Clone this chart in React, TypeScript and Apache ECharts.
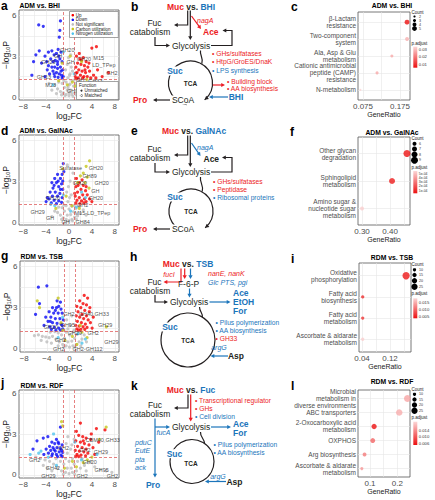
import React, { useEffect, useRef } from 'react';
import * as echarts from 'echarts';

const FONT = '"Liberation Sans", Arial, Helvetica, sans-serif';
const RED = '#ec1c24';
const BLUE = '#1b75bb';
const INK = '#231f20';
const AX = '#4d4d4d';
const UP_C = '#f50000';
const DOWN_C = '#0a0af5';
const NS_C = '#bdbdbd';
const CARB_C = '#c6c61c';
const NITRO_C = '#4fc4ee';
const CB_LOW = [236, 16, 16];
const CB_HIGH = [251, 214, 214];

// ---------- volcano shared ----------
const fcTicks = [-8, -4, 0, 4, 8];
const fcGrid = [-8, -6, -4, -2, 0, 2, 4, 6, 8];
const pTicks = [0, 3, 6];
const pGrid = [0, 1.5, 3, 4.5, 6];
const fcCut = [-1, 1];
const pCut = 1.3;
const volcanoLegend = ['Up', 'Down', 'Not significant', 'Carbon utilization', 'Nitrogen utilization'];
const functionLegend = ['Unmatched', 'Matched'];

// ---------- a: ADM vs. BHI ----------
const aUp = [[1.3,3.0],[1.8,3.2],[2.5,2.9],[4.0,3.6],[4.8,3.7],[3.0,2.6],[1.5,2.5],[2.1,2.4],[2.7,2.3],[3.3,2.2],[1.2,2.2],[1.7,2.0],[2.3,1.9],[2.9,1.8],[3.6,1.9],[1.4,1.8],[2.0,1.6],[2.6,1.5],[3.2,1.5],[1.1,1.5],[1.6,1.4],[4.3,1.6],[5.0,2.0],[5.8,1.5],[6.9,1.8],[4.7,1.4],[2.2,2.7],[1.3,1.35],[3.8,1.4],[2.4,1.4],[1.9,2.8],[3.5,2.5],[1.2,1.75],[2.8,2.0]];
const aDown = [[-5.3,5.3],[-4.5,5.2],[-1.5,5.6],[-1.6,4.9],[-1.7,4.4],[-5.8,3.1],[-6.2,2.6],[-4.2,3.0],[-3.6,3.3],[-3.0,3.4],[-2.6,3.1],[-2.2,3.2],[-1.8,3.0],[-1.4,3.3],[-3.2,2.8],[-2.8,2.6],[-2.4,2.7],[-2.0,2.6],[-1.6,2.8],[-1.2,2.6],[-4.8,2.5],[-3.6,2.3],[-3.0,2.2],[-2.5,2.2],[-2.0,2.1],[-1.5,2.2],[-1.1,2.0],[-2.8,1.9],[-2.2,1.8],[-1.7,1.7],[-1.3,1.6],[-3.4,1.7],[-2.5,1.5],[-1.9,1.45],[-1.2,1.4],[-6.5,1.6],[-4.2,1.5],[-3.8,2.0],[-2.0,2.4],[-1.4,1.9],[-1.0,1.5],[-2.6,1.7],[-5.2,3.4],[-3.9,2.6],[-1.9,3.5]];
const aNs = [[0,0.1],[-0.5,0.2],[0.5,0.2],[-1,0.3],[1,0.3],[-0.3,0.5],[0.3,0.5],[-1.5,0.4],[1.5,0.5],[-0.8,0.7],[0.8,0.8],[-2,0.6],[2,0.7],[0,0.9],[-1.2,1.0],[1.2,1.0],[-0.5,1.1],[0.5,1.2],[-2.5,0.9],[2.5,1.0],[-0.2,1.4],[0.2,1.7],[-0.6,2.0],[0.6,1.9],[-0.3,2.4],[0.4,2.2],[-3,0.5],[3,0.6],[-1.8,1.1],[1.8,1.2],[0,0.3],[-0.2,0.7],[0.2,0.95],[-0.9,1.2],[0.9,1.25],[-3.5,1.0],[3.5,0.9],[-0.7,0.1],[0.7,0.05],[-1.3,0.15],[1.3,0.15],[-2.2,0.25],[2.2,0.3],[0.1,1.6],[-0.1,2.9],[0.3,3.1]];
const aCarbon = [[-1.2,2.5],[2.2,2.6],[0.6,1.1],[-0.3,0.9],[1.1,0.8],[-1.8,1.2],[3.1,1.3],[0.2,3.0]];
const aNitrogen = [[-1.0,3.3],[3.6,1.1],[-2.8,0.9],[0.9,1.7],[1.5,0.6]];
const aLabels = [[-0.3,3.45,'GH20'],[-1.9,3.05,'GH'],[-3.6,2.55,'GH29'],[0.3,2.6,'GH'],[2.6,2.8,'GH20'],[5.2,2.9,'M15'],[6.1,2.35,'LD_TPep'],[7.5,1.75,'GH2'],[4.6,1.2,'GH33'],[-4.4,1.45,'GH13'],[-3.2,0.9,'M23'],[0.9,0.45,'GH95'],[2.0,1.28,'GH']];

// ---------- d: ADM vs. GalNAc ----------
const dUp = [[1.3,3.2],[1.8,2.9],[2.5,2.7],[1.2,2.6],[2.1,2.4],[2.9,2.3],[1.5,2.2],[2.4,2.0],[3.2,2.0],[1.1,1.9],[1.8,1.8],[2.7,1.7],[1.4,1.6],[2.2,1.55],[3.0,1.5],[1.2,1.4],[1.9,1.35],[2.6,1.4],[3.6,1.7],[1.6,2.7],[2.3,3.1],[3.0,2.6],[1.0,2.1],[4.0,1.5]];
const dDown = [[-1.0,4.3],[-0.9,3.7],[-1.2,3.5],[-2.0,3.5],[-2.5,3.2],[-1.5,3.2],[-3.0,2.9],[-2.2,2.9],[-1.3,2.8],[-2.8,2.5],[-1.8,2.6],[-1.1,2.4],[-3.3,2.2],[-2.4,2.2],[-1.6,2.1],[-2.9,1.9],[-2.0,1.9],[-1.2,1.8],[-3.5,1.7],[-2.6,1.6],[-1.8,1.55],[-1.3,1.45],[-4.0,1.5],[-3.1,1.4],[-2.2,1.35],[-1.5,2.4],[-2.6,2.7],[-1.9,3.0],[-1.1,3.0],[-3.8,1.8]];
const dNs = [[0,0.1],[-0.5,0.2],[0.5,0.2],[-1,0.3],[1,0.35],[-0.3,0.5],[0.3,0.55],[-1.5,0.5],[1.5,0.45],[-0.8,0.8],[0.8,0.75],[-2,0.7],[2,0.65],[0,0.95],[-1.2,1.05],[1.2,1.0],[-0.5,1.2],[0.5,1.15],[-2.5,0.8],[2.5,0.9],[-0.2,1.5],[0.1,1.8],[-0.4,2.2],[0.4,2.0],[-0.1,2.6],[0.2,3.0],[-3,0.4],[3,0.5],[-1.8,1.1],[1.8,1.15],[-0.6,0.05],[0.6,0.1],[-1.3,0.2],[1.3,0.2],[-0.9,1.25],[0.9,1.2],[-0.3,4.2],[0.7,3.6]];
const dCarbon = [[3.6,4.5],[3.0,4.1],[2.5,3.6],[3.2,3.3],[2.0,3.4],[1.5,2.9],[2.8,2.9],[-0.5,1.9],[0.5,1.2],[1.8,1.0],[-1.1,3.9],[3.5,2.5],[-2.3,1.0]];
const dNitrogen = [[-1.0,2.0],[1.3,1.1],[-2.5,1.2],[2.2,2.2],[0.3,0.8],[-3.2,1.3],[2.9,1.8]];
const dLabels = [[0.3,3.95,'Sulfatase'],[4.7,3.95,'GH20'],[3.6,3.4,'GH89'],[5.7,2.85,'GH20'],[1.9,2.85,'GH20'],[4.6,2.3,'GH'],[4.7,1.75,'GH20'],[-2.8,1.75,'GH20'],[2.4,1.25,'GH2'],[-5.5,0.75,'GH29'],[4.1,0.68,'M15-LD_TPep'],[-3.3,0.3,'GH'],[-0.6,-0.02,'GH'],[2.4,-0.02,'GH84']];

// ---------- g: RDM vs. TSB ----------
const gUp = [[2.6,3.9],[3.2,3.7],[1.8,3.5],[2.4,3.3],[3.0,3.2],[1.3,3.1],[2.0,3.0],[2.7,2.8],[3.5,2.7],[1.5,2.7],[2.2,2.5],[3.0,2.4],[1.2,2.4],[1.8,2.3],[2.5,2.2],[3.3,2.1],[1.4,2.0],[2.1,1.9],[2.8,1.8],[3.7,1.9],[1.1,1.7],[1.7,1.65],[2.4,1.6],[3.1,1.55],[1.3,1.45],[2.0,1.4],[2.7,1.4],[4.0,1.5],[3.6,3.0],[1.6,1.35],[4.2,2.3]];
const gDown = [[-5.5,4.5],[-4.0,4.6],[-5.3,3.3],[-6.0,2.5],[-2.2,3.5],[-1.6,3.4],[-3.0,3.0],[-2.3,3.0],[-1.5,2.9],[-3.6,2.7],[-2.8,2.6],[-2.0,2.6],[-1.3,2.6],[-4.2,2.3],[-3.3,2.3],[-2.5,2.2],[-1.7,2.2],[-1.1,2.1],[-3.8,2.0],[-3.0,1.9],[-2.2,1.85],[-1.5,1.8],[-4.5,1.7],[-3.5,1.6],[-2.7,1.55],[-1.9,1.5],[-1.2,1.45],[-3.2,1.4],[-2.4,1.35],[-1.6,1.35],[-2.5,2.8],[-1.9,3.1],[-3.4,2.0],[-1.3,1.7]];
const gNs = [[0,0.1],[-0.6,0.2],[0.6,0.2],[-1.2,0.3],[1.2,0.3],[-0.3,0.5],[0.4,0.55],[-1.8,0.5],[1.7,0.5],[-0.9,0.75],[0.9,0.75],[-2.4,0.7],[2.2,0.7],[0,1.0],[-1.4,1.0],[1.3,1.05],[-0.6,1.2],[0.6,1.2],[-3.0,0.9],[2.6,1.0],[-3.6,0.8],[-4.2,0.85],[-4.8,0.9],[-5.5,1.0],[-6.2,0.95],[-3.4,1.2],[-2.6,1.25],[-2.0,1.15],[-0.3,1.45],[0.2,1.7],[-0.5,2.1],[0.4,2.4],[-3.2,0.4],[3.0,0.5],[-1.0,0.1],[1.0,0.1],[-2.0,0.2],[2.0,0.2],[-4.0,0.5],[-5.0,0.6],[0.8,1.35],[-1.0,1.35]];
const gCarbon = [[-5.7,3.5],[-5.3,3.0],[-2.0,3.7],[6.5,1.6],[-1.5,1.9],[-1.2,1.35],[1.9,1.7],[0.5,0.9],[-0.8,0.6],[3.1,0.8],[1.3,0.3],[2.2,1.2]];
const gNitrogen = [[-1.2,2.3],[2.8,0.7],[1.5,1.1],[-2.0,0.8],[2.2,0.4]];
const gLabels = [[-0.1,2.5,'GH2'],[4.3,2.55,'GH40,GH33'],[-0.3,1.75,'GH95'],[6.3,1.75,'GH29'],[-3.3,1.55,'GH20'],[0.9,1.15,'GH29'],[4.2,1.15,'GH2'],[-1.6,0.65,'GH2'],[7.4,0.45,'GH29'],[-1.9,-0.02,'GH2'],[3.2,-0.02,'GH2-GH112']];

// ---------- j: RDM vs. RDF ----------
const jUp = [[2.0,3.8],[1.3,3.2],[4.8,3.4],[6.3,3.3],[1.7,2.9],[2.4,2.8],[3.0,2.7],[3.8,2.6],[1.2,2.5],[2.0,2.4],[2.7,2.3],[3.5,2.2],[1.5,2.1],[2.3,2.0],[3.0,1.9],[4.2,2.0],[1.1,1.8],[1.8,1.75],[2.6,1.7],[3.3,1.6],[1.4,1.5],[2.1,1.45],[2.9,1.4],[1.2,1.35],[1.7,1.35],[4.5,1.5],[5.2,2.4],[3.9,3.0],[2.5,2.5]];
const jDown = [[-5.6,2.5],[-6.3,1.9],[-4.5,2.7],[-3.7,2.8],[-1.5,3.5],[-2.2,2.6],[-3.0,2.4],[-2.5,2.3],[-1.8,2.3],[-1.2,2.2],[-3.4,2.1],[-2.8,2.0],[-2.1,2.0],[-1.5,1.95],[-4.0,1.9],[-3.2,1.8],[-2.4,1.75],[-1.7,1.7],[-1.1,1.65],[-3.6,1.6],[-2.9,1.55],[-2.2,1.5],[-1.4,1.45],[-3.0,1.4],[-2.0,1.35],[-1.2,1.35],[-4.4,1.5],[-1.9,2.4],[-2.6,1.85],[-1.3,1.8]];
const jNs = [[0,0.1],[-0.6,0.2],[0.6,0.2],[-1.3,0.3],[1.3,0.3],[-0.3,0.5],[0.4,0.5],[-2.0,0.5],[2.0,0.5],[-0.9,0.8],[0.9,0.8],[-2.7,0.8],[2.7,0.7],[0,1.0],[-1.5,1.0],[1.5,1.0],[-0.6,1.2],[0.6,1.2],[-3.4,1.0],[3.4,0.9],[-4.2,1.1],[-5.0,1.2],[-5.8,1.3],[-4.5,0.7],[4.5,0.6],[5.5,0.4],[6.5,0.3],[7.5,0.2],[-3.0,0.3],[3.0,0.3],[-0.3,1.6],[0.3,1.9],[-0.5,2.3],[0.5,2.2],[-1.0,0.05],[1.0,0.05],[-2.3,1.2],[2.3,1.2],[-0.2,2.8],[0.9,2.6],[3.8,1.0],[-3.8,0.5]];
const jCarbon = [[6.5,3.5],[5.3,2.6],[-1.3,3.9],[-1.1,3.6],[2.5,0.9],[4.0,1.3],[-0.8,0.5],[1.3,0.6],[0.6,1.0],[3.2,1.1]];
const jNitrogen = [[-6.8,1.5],[-5.3,1.6],[-4.9,1.75],[-2.7,3.0],[-3.6,1.3],[4.9,1.5],[1.0,2.4],[2.2,1.1],[-2.2,0.7]];
const jLabels = [[-1.0,2.0,'GH2'],[5.9,2.55,'CBM40,GH33'],[2.8,1.85,'GH2'],[5.6,1.7,'GH29'],[-6.0,1.1,'GH2'],[3.6,0.95,'GH20'],[-2.8,0.5,'GH42'],[5.7,0.4,'GH95'],[-3.6,-0.05,'GH29'],[2.3,-0.05,'GH2'],[7.6,-0.05,'GH2']];

// ---------- dot plots ----------
const cTerms = ['β-Lactam\nresistance', 'Two-component\nsystem', 'Ala, Asp & Glu\nmetabolism', 'Cationic antimicrobial\npeptide (CAMP)\nresistance', 'N-metabolism'];
const cRatio = [0.194, 0.194, 0.153, 0.113, 0.068];
const cCount = [5, 4, 3, 3, 2];
const cPadj = [0.005, 0.028, 0.027, 0.027, 0.033];
const cRatioTicks = [0.075, 0.175];
const cRatioGrid = [0.075, 0.125, 0.175];
const cCountTicks = [2, 3, 4, 5];
const cPadjTicks = [0.03, 0.02, 0.01];

const fTerms = ['Other glycan\ndegradation', 'Sphingolipid\nmetabolism', 'Amino sugar &\nnucleotide sugar\nmetabolism'];
const fRatio = [0.46, 0.407, 0.30];
const fCount = [9, 8, 6];
const fPadj = [0.00005, 0.00007, 0.00054];
const fRatioTicks = [0.30, 0.40];
const fRatioGrid = [0.30, 0.35, 0.40, 0.45];
const fCountTicks = [6, 7, 8, 9];
const fPadjTicks = [0.0005, 0.0004, 0.0003, 0.0002, 0.0001];

const iTerms = ['Oxidative\nphosphorylation', 'Fatty acid\nbiosynthesis', 'Fatty acid\nmetabolism', 'Ascorbate & aldarate\nmetabolism'];
const iRatio = [0.166, 0.042, 0.042, 0.042];
const iCount = [30, 10, 10, 10];
const iPadj = [0.0045, 0.006, 0.0065, 0.0175];
const iRatioTicks = [0.04, 0.12];
const iRatioGrid = [0.04, 0.08, 0.12, 0.16];
const iCountTicks = [10, 15, 20, 25];
const iPadjTicks = [0.015, 0.010, 0.005];

const lTerms = ['Microbial\nmetabolism in\ndiverse environments', 'ABC transporters', '2-Oxocarboxylic acid\nmetabolism', 'OXPHOS', 'Arg biosynthesis', 'Ascorbate & aldarate\nmetabolism'];
const lRatio = [0.237, 0.207, 0.115, 0.11, 0.08, 0.07];
const lCount = [28, 26, 20, 18, 13, 9];
const lPadj = [0.0155, 0.016, 0.005, 0.011, 0.0125, 0.0145];
const lRatioTicks = [0.1, 0.2];
const lRatioGrid = [0.1, 0.15, 0.2];
const lCountTicks = [10, 15, 20, 25];
const lPadjTicks = [0.014, 0.010, 0.006];

// ---------- panel configs (layout) ----------
const volcanoPanels = [
  { title: 'ADM vs. BHI', up: aUp, down: aDown, ns: aNs, carbon: aCarbon, nitro: aNitrogen, labels: aLabels, grid: { left: 19, top: 10, width: 100, height: 90 }, y: [-0.22, 6.4], titlePos: [19.5, 5] },
  { title: 'ADM vs. GalNAc', up: dUp, down: dDown, ns: dNs, carbon: dCarbon, nitro: dNitrogen, labels: dLabels, grid: { left: 19, top: 135, width: 100, height: 90 }, y: [-0.22, 6.4], titlePos: [19.5, 130.5] },
  { title: 'RDM vs. TSB', up: gUp, down: gDown, ns: gNs, carbon: gCarbon, nitro: gNitrogen, labels: gLabels, grid: { left: 20, top: 261, width: 99, height: 91 }, y: [-0.25, 6.42], titlePos: [20.5, 256] },
  { title: 'RDM vs. RDF', up: jUp, down: jDown, ns: jNs, carbon: jCarbon, nitro: jNitrogen, labels: jLabels, grid: { left: 19, top: 390, width: 100, height: 88 }, y: [-0.22, 6.22], titlePos: [20.5, 385] },
];

const dotPanels = [
  { title: 'ADM vs. BHI', terms: cTerms, ratio: cRatio, count: cCount, padj: cPadj, ticks: cRatioTicks, gridV: cRatioGrid, x: [0.0615, 0.202], dec: 3, countTicks: cCountTicks, size: [2.2, 4.8], padjTicks: cPadjTicks, pRange: [0.005, 0.0335], pDec: 2,
    grid: { left: 358, top: 12, width: 52, height: 88 }, titleY: 5.5, leg: { countTitle: 12.5, countY: [16.5, 20.5, 24.5, 28.5], pTitle: 43, barY: 46.7, barH: 21 } },
  { title: 'ADM vs. GalNAc', terms: fTerms, ratio: fRatio, count: fCount, padj: fPadj, ticks: fRatioTicks, gridV: fRatioGrid, x: [0.2857, 0.471], dec: 2, countTicks: fCountTicks, size: [4, 7], padjTicks: fPadjTicks, pRange: [0.00004, 0.00056], pDec: -1,
    grid: { left: 358, top: 137, width: 52, height: 88 }, titleY: 132.3, leg: { countTitle: 138.5, countY: [143.8, 149, 154.5, 160.3], pTitle: 167.5, barY: 171, barH: 22.3 } },
  { title: 'RDM vs. TSB', terms: iTerms, ratio: iRatio, count: iCount, padj: iPadj, ticks: iRatioTicks, gridV: iRatioGrid, x: [0.0314, 0.18], dec: 2, countTicks: iCountTicks, size: [3.3, 6.3], padjTicks: iPadjTicks, pRange: [0.0039, 0.0181], pDec: 3,
    grid: { left: 359, top: 263, width: 52, height: 89 }, titleY: 257.3, leg: { countTitle: 264.5, countY: [269.8, 275, 280.7, 286.7], pTitle: 293.3, barY: 298.3, barH: 20 } },
  { title: 'RDM vs. RDF', terms: lTerms, ratio: lRatio, count: lCount, padj: lPadj, ticks: lRatioTicks, gridV: lRatioGrid, x: [0.056, 0.2465], dec: 1, countTicks: lCountTicks, size: [3.3, 6.3], padjTicks: lPadjTicks, pRange: [0.005, 0.019], pDec: 3,
    grid: { left: 358, top: 390, width: 52, height: 87 }, titleY: 381.7, leg: { countTitle: 389.5, countY: [394.3, 399.5, 405, 410.7], pTitle: 417.7, barY: 421.7, barH: 23.3 } },
];

// ---------- helpers ----------
const rgb = (c: number[]) => `rgb(${c.map((v) => Math.round(v)).join(',')})`;
const colorOf = (d: any, p: number) => {
  let t = (p - d.pRange[0]) / (d.pRange[1] - d.pRange[0]);
  t = Math.max(0, Math.min(1, t));
  return rgb(CB_LOW.map((v, k) => v + (CB_HIGH[k] - v) * t));
};
const sizeOf = (d: any, c: number) => {
  const lo = d.countTicks[0], hi = d.countTicks[d.countTicks.length - 1];
  return d.size[0] + ((c - lo) / (hi - lo)) * (d.size[1] - d.size[0]);
};
const fmtP = (d: any, p: number) => (d.pDec < 0 ? p.toExponential(0).replace(/e-(\d)$/, 'e-0$1') : p.toFixed(d.pDec));
const minus = (v: number) => (v < 0 ? '\u2212' + Math.abs(v) : String(v));

const T = (x: number, y: number, text: string, o: any = {}) => {
  const al = o.align || 'center';
  const style: any = {
    text, fill: o.fill || INK, fontSize: o.size || 8.5, fontWeight: o.bold ? 'bold' : 'normal',
    fontStyle: o.italic ? 'italic' : 'normal', fontFamily: FONT,
    align: al, textAlign: al, verticalAlign: 'middle', textVerticalAlign: 'middle',
  };
  if (o.rich) style.rich = o.rich;
  if (o.bg) { style.backgroundColor = '#fff'; style.padding = [0, 1]; }
  return { type: 'text', x, y, z: 50, silent: true, style };
};

const arrow = (pts: number[][], color: string, head = true, w = 1.2) => {
  const p = pts.map((q) => q.slice());
  const out: any[] = [];
  if (head) {
    const n = p.length;
    const [x2, y2] = p[n - 1];
    const [x1, y1] = p[n - 2];
    const L = Math.hypot(x2 - x1, y2 - y1);
    const ux = (x2 - x1) / L, uy = (y2 - y1) / L;
    const len = 3.8, hw = 2.1;
    const bx = x2 - ux * len, by = y2 - uy * len;
    p[n - 1] = [bx + ux * 0.6, by + uy * 0.6];
    out.push({ type: 'polygon', z: 51, silent: true, shape: { points: [[x2, y2], [bx - uy * hw, by + ux * hw], [bx + uy * hw, by - ux * hw]] }, style: { fill: color } });
  }
  out.unshift({ type: 'polyline', z: 50, silent: true, shape: { points: p }, style: { stroke: color, lineWidth: w, fill: 'none' } });
  return out;
};

const arcEl = (cx: number, cy: number, r: number, a0: number, a1: number, color = INK, w = 1.2) => ({
  type: 'arc', z: 50, silent: true,
  shape: { cx, cy, r, startAngle: (a0 * Math.PI) / 180, endAngle: (a1 * Math.PI) / 180, clockwise: true },
  style: { stroke: color, lineWidth: w, fill: 'none' },
});
const arcHead = (cx: number, cy: number, r: number, a: number, color = INK) => {
  const t = (a * Math.PI) / 180;
  const x2 = cx + r * Math.cos(t), y2 = cy + r * Math.sin(t);
  const ux = -Math.sin(t), uy = Math.cos(t);
  const len = 3.8, hw = 2.1;
  const bx = x2 - ux * len, by = y2 - uy * len;
  return { type: 'polygon', z: 51, silent: true, shape: { points: [[x2, y2], [bx - uy * hw, by + ux * hw], [bx + uy * hw, by - ux * hw]] }, style: { fill: color } };
};
const curve = (x1: number, y1: number, c1x: number, c1y: number, c2x: number, c2y: number, x2: number, y2: number) => ({
  type: 'bezierCurve', z: 50, silent: true,
  shape: { x1, y1, cpx1: c1x, cpy1: c1y, cpx2: c2x, cpy2: c2y, x2, y2 },
  style: { stroke: INK, lineWidth: 1.2, fill: 'none' },
});

const richTitle = {
  r: { fill: RED, fontSize: 8.5, fontWeight: 'bold', fontFamily: FONT },
  u: { fill: BLUE, fontSize: 8.5, fontWeight: 'bold', fontFamily: FONT },
};
const PT = 8.5; // pathway text size
const LS = 6.7; // list text size

function pathwayGraphics() {
  const g: any[] = [];
  const add = (...els: any[]) => els.forEach((e) => (Array.isArray(e) ? g.push(...e) : g.push(e)));

  // ----- b -----
  add(T(191, 6.5, '{r|Muc} vs. {u|BHI}', { bold: true, rich: richTitle }));
  add(arrow([[187.7, 10.5], [187.7, 25], [174, 25]], INK));
  add(arrow([[190.3, 10.5], [190.3, 40]], INK));
  add(arrow([[191.5, 16], [201, 29]], RED));
  add(T(197, 20, 'nagA', { italic: true, fill: RED, size: 7, align: 'left' }));
  add(T(203, 31.5, 'Ace', { bold: true, fill: RED, align: 'left' }));
  add(T(154.5, 23, 'Fuc', { size: PT }), T(150, 32, 'catabolism', { size: PT }));
  add(arrow([[155, 37], [155, 45.5], [170, 45.5]], INK));
  add(T(191, 45.5, 'Glycolysis', { size: PT }));
  add(arrow([[211, 45.5], [232, 45.5], [232, 30.5], [222.5, 30.5]], INK));
  add(curve(200.5, 50.5, 199.5, 56, 204, 58, 201.8, 63.8));
  add(arcEl(190.5, 83, 22, 100, 295), arcEl(190.5, 83, 22, -65, 50), arcHead(190.5, 83, 22, 50));
  add(T(190.5, 83, 'TCA', { bold: true, size: 6.5 }));
  add(T(175, 71, 'Suc', { bold: true, fill: BLUE, bg: true }));
  add(T(183, 100, 'SCoA', { size: PT, bg: true }));
  add(arrow([[170, 100], [153, 100]], INK));
  add(T(140, 100, 'Pro', { bold: true, fill: RED }));
  add(arrow([[228, 97], [209, 97]], BLUE));
  add(T(236, 97, 'BHI', { bold: true, fill: BLUE }));
  add(arrow([[212.8, 85], [225, 85]], RED));
  add(T(227, 81, '• Building block', { fill: RED, size: LS, align: 'left' }));
  add(T(227, 88.5, '• AA biosynthesis', { fill: RED, size: LS, align: 'left' }));
  add(T(212, 53, '• GHs/sulfatases', { fill: RED, size: LS, align: 'left' }));
  add(T(212, 61.5, '• HtpG/GroES/DnaK', { fill: RED, size: LS, align: 'left' }));
  add(T(212, 70, '• LPS synthesis', { fill: BLUE, size: LS, align: 'left' }));

  // ----- e -----
  add(T(194, 131, '{r|Muc} vs. {u|GalNAc}', { bold: true, rich: richTitle }));
  add(arrow([[187.7, 135.5], [187.7, 155], [174, 155]], INK));
  add(arrow([[190.3, 135.5], [190.3, 167]], INK));
  add(arrow([[191.5, 143], [200.5, 156]], BLUE));
  add(T(197, 147, 'nagA', { italic: true, fill: BLUE, size: 7, align: 'left' }));
  add(T(203.5, 158.5, 'Ace', { bold: true, align: 'left' }));
  add(T(154.5, 149, 'Fuc', { size: PT }), T(150, 158, 'catabolism', { size: PT }));
  add(arrow([[155, 163], [155, 172], [170, 172]], INK));
  add(T(191, 172, 'Glycolysis', { size: PT }));
  add(arrow([[211, 172], [232, 172], [232, 157.5], [222, 157.5]], INK));
  add(curve(200.5, 177, 199.5, 183, 204, 185, 202.2, 191.5));
  add(arcEl(191, 211, 22, 100, 295), arcEl(191, 211, 22, -65, 50), arcHead(191, 211, 22, 50));
  add(T(191, 211, 'TCA', { bold: true, size: 6.5 }));
  add(T(175, 197, 'Suc', { bold: true, fill: BLUE, bg: true }));
  add(T(183, 229, 'SCoA', { size: PT, bg: true }));
  add(arrow([[170, 229], [153, 229]], INK));
  add(T(140, 229, 'Pro', { bold: true, fill: RED }));
  add(T(213, 181, '• GHs/sulfatases', { fill: RED, size: LS, align: 'left' }));
  add(T(213, 189, '• Peptidase', { fill: RED, size: LS, align: 'left' }));
  add(T(213, 197, '• Ribosomal proteins', { fill: BLUE, size: LS, align: 'left' }));

  // ----- h -----
  add(T(188, 264, '{r|Muc} vs. {u|TSB}', { bold: true, rich: richTitle }));
  add(arrow([[181, 268.5], [181, 282], [163.5, 282]], RED));
  add(T(169, 274, 'fucI', { italic: true, fill: RED, size: 7 }));
  add(arrow([[184.7, 268.5], [184.7, 279]], RED));
  add(arrow([[190.5, 268.5], [190.5, 279]], BLUE));
  add(T(188.5, 284, 'F-6-P', { size: PT }));
  add(T(208, 273, 'nanE, nanK', { italic: true, fill: RED, size: 7, align: 'left' }));
  add(T(208, 282, 'Glc PTS, pgi', { italic: true, fill: BLUE, size: 7, align: 'left' }));
  add(arrow([[189.5, 288.5], [189.5, 297.5]], BLUE));
  add(T(154.5, 281.5, 'Fuc', { size: PT }), T(150, 290.5, 'catabolism', { size: PT }));
  add(arrow([[155, 295], [155, 302], [168, 302]], INK));
  add(T(189, 302, 'Glycolysis', { size: PT }));
  add(arrow([[209.5, 302], [230.5, 302]], BLUE));
  add(T(233, 293, 'Ace', { bold: true, fill: BLUE, align: 'left' }));
  add(T(233, 302, 'EtOH', { bold: true, fill: BLUE, align: 'left' }));
  add(T(233, 311, 'For', { bold: true, fill: BLUE, align: 'left' }));
  add(curve(199.5, 307, 199.5, 312, 203, 313, 202.3, 317.1));
  add(arcEl(188, 340, 27, 0, 360));
  add(T(188, 340, 'TCA', { bold: true, size: 6.5 }));
  add(T(170, 327, 'Suc', { bold: true, fill: BLUE, bg: true }));
  add(T(215.5, 322, '• Pilus polymerization', { fill: BLUE, size: LS, align: 'left' }));
  add(T(215.5, 330, '• AA biosynthesis', { fill: BLUE, size: LS, align: 'left' }));
  add(T(215.5, 338, '• GH33', { fill: RED, size: LS, align: 'left' }));
  add(T(219, 347, 'argG', { italic: true, fill: BLUE, size: 7 }));
  add(arrow([[228, 356], [210.5, 356]], BLUE));
  add(T(236, 356, 'Asp', { bold: true }));

  // ----- k -----
  add(T(191, 390, '{r|Muc} vs. {u|Fuc}', { bold: true, rich: richTitle }));
  add(arrow([[188, 394.5], [188, 408], [174, 408]], INK));
  add(arrow([[190.7, 394.5], [190.7, 421.5]], RED));
  add(T(195, 400, '• Transcriptional regulator', { fill: RED, size: LS, align: 'left' }));
  add(T(195, 408.3, '• GHs', { fill: RED, size: LS, align: 'left' }));
  add(T(195, 416.6, '• Cell division', { fill: BLUE, size: LS, align: 'left' }));
  add(T(155, 404.8, 'Fuc', { size: PT }), T(150, 413.8, 'catabolism', { size: PT }));
  add(arrow([[155, 418.5], [155, 477.5]], BLUE));
  add(arrow([[155, 427], [170, 427]], BLUE));
  add(T(163.5, 432.8, 'fucA', { italic: true, fill: BLUE, size: 7 }));
  add(T(135, 442, 'pduC', { italic: true, fill: BLUE, size: 7, align: 'left' }));
  add(T(135, 450.5, 'EutE', { italic: true, fill: BLUE, size: 7, align: 'left' }));
  add(T(135, 459, 'pta', { italic: true, fill: BLUE, size: 7, align: 'left' }));
  add(T(135, 467.5, 'ack', { italic: true, fill: BLUE, size: 7, align: 'left' }));
  add(T(153, 485, 'Pro', { bold: true, fill: BLUE }));
  add(T(191, 427, 'Glycolysis', { size: PT }));
  add(arrow([[211, 427], [231, 427]], BLUE));
  add(T(233, 423.5, 'Ace', { bold: true, fill: BLUE, align: 'left' }));
  add(T(233, 432.5, 'For', { bold: true, fill: BLUE, align: 'left' }));
  add(curve(200.5, 432, 200, 437, 204.5, 439, 204.6, 443.5));
  add(arcEl(192, 461.5, 22, 0, 360));
  add(T(191, 463, 'TCA', { bold: true, size: 6.5 }));
  add(T(174.5, 453.7, 'Suc', { bold: true, fill: BLUE, bg: true }));
  add(T(213.5, 444.5, '• Pilus polymerization', { fill: BLUE, size: LS, align: 'left' }));
  add(T(213.5, 452.5, '• AA biosynthesis', { fill: BLUE, size: LS, align: 'left' }));
  add(T(218, 476, 'argG', { italic: true, fill: BLUE, size: 7 }));
  add(arrow([[226, 481.5], [205, 481.5]], BLUE));
  add(T(234.5, 482, 'Asp', { bold: true }));
  return g;
}

function chartGraphics() {
  const g: any[] = [];
  const letters: [string, number, number][] = [
    ['a', 1, 6], ['b', 131, 7], ['c', 291, 7], ['d', 1, 131], ['e', 131, 131], ['f', 290, 132],
    ['g', 1, 256], ['h', 130, 257], ['i', 291, 259], ['j', 1, 383], ['k', 131, 386], ['l', 291, 386],
  ];
  letters.forEach(([s, x, y]) => g.push(T(x, y, s, { bold: true, size: 12, align: 'left', fill: '#000' })));

  volcanoPanels.forEach((v) => g.push(T(v.titlePos[0], v.titlePos[1], v.title, { bold: true, size: 6.8, align: 'left', fill: '#000' })));
  dotPanels.forEach((d) => g.push(T(392, d.titleY, d.title, { bold: true, size: 6.8, fill: '#000' })));

  // volcano legend (panel a)
  g.push({ type: 'rect', z: 40, silent: true, shape: { x: 69.5, y: 11.5, width: 48.8, height: 26 }, style: { fill: '#fff', stroke: '#666', lineWidth: 0.6 } });
  const legCols = [UP_C, DOWN_C, NS_C, CARB_C, NITRO_C];
  volcanoLegend.forEach((s, k) => {
    const y = 15.2 + k * 4.6;
    g.push({ type: 'circle', z: 41, silent: true, shape: { cx: 72.8, cy: y, r: 1.3 }, style: { fill: legCols[k] } });
    g.push(T(75.8, y, s, { size: 4.5, align: 'left', fill: '#1a1a1a' }));
  });
  g.push({ type: 'rect', z: 40, silent: true, shape: { x: 76.5, y: 81.5, width: 41.8, height: 18 }, style: { fill: '#fff', stroke: '#666', lineWidth: 0.6 } });
  g.push(T(79, 85.3, 'Function', { size: 4.5, align: 'left', fill: '#1a1a1a' }));
  functionLegend.forEach((s, k) => {
    const y = 90.6 + k * 5;
    g.push({ type: 'circle', z: 41, silent: true, shape: { cx: 81.5, cy: y, r: 1 }, style: k === 0 ? { fill: '#333' } : { fill: '#fff', stroke: '#333', lineWidth: 0.5 } });
    g.push(T(84.5, y, s, { size: 4.5, align: 'left', fill: '#1a1a1a' }));
  });

  // dot plot legends
  dotPanels.forEach((d) => {
    const L = d.leg;
    g.push(T(411.5, L.countTitle, 'Count', { size: 4.5, align: 'left', fill: '#1a1a1a' }));
    d.countTicks.forEach((c: number, k: number) => {
      g.push({ type: 'circle', z: 41, silent: true, shape: { cx: 414.5, cy: L.countY[k], r: sizeOf(d, c) / 2 }, style: { fill: '#000' } });
      g.push(T(419, L.countY[k], String(c), { size: 3.6, align: 'left', fill: '#333' }));
    });
    g.push(T(411.5, L.pTitle, 'p.adjust', { size: 4.5, align: 'left', fill: '#1a1a1a' }));
    g.push({ type: 'rect', z: 41, silent: true, shape: { x: 413.3, y: L.barY, width: 4, height: L.barH },
      style: { fill: new echarts.graphic.LinearGradient(0, 0, 0, 1, [{ offset: 0, color: rgb(CB_HIGH) }, { offset: 1, color: rgb(CB_LOW) }]) } });
    d.padjTicks.forEach((p: number) => {
      const y = L.barY + L.barH - ((p - d.pRange[0]) / (d.pRange[1] - d.pRange[0])) * L.barH;
      g.push(T(418.8, y, fmtP(d, p), { size: d.pDec < 0 ? 3.4 : 4.2, align: 'left', fill: '#333' }));
    });
  });
  return g;
}

function buildOption() {
  const grids: any[] = [];
  const xAxes: any[] = [];
  const yAxes: any[] = [];
  const series: any[] = [];
  const nameRich = {
    a: { fontSize: 8.5, lineHeight: 11, color: '#1a1a1a', fontFamily: FONT },
    s: { fontSize: 5.5, lineHeight: 6, verticalAlign: 'bottom', color: '#1a1a1a', fontFamily: FONT },
  };
  const gridStyle = { show: true, borderColor: '#555', borderWidth: 0.8, backgroundColor: '#fff', containLabel: false, outerBoundsMode: 'none' };

  volcanoPanels.forEach((v, i) => {
    grids.push({ ...gridStyle, ...v.grid });
    xAxes.push({
      gridIndex: i, type: 'value', min: -8.75, max: 8.75,
      axisLine: { show: false }, axisTick: { show: false, customValues: fcGrid },
      splitLine: { show: true, lineStyle: { color: '#e6e6e6', width: 0.6 } },
      axisLabel: { customValues: fcTicks, formatter: (x: number) => minus(x), fontSize: 8, color: AX, margin: 2.5, fontFamily: FONT },
      name: '{a|log}{s|2}{a|FC}', nameLocation: 'middle', nameGap: 10, nameMoveOverlap: false,
      nameTextStyle: { rich: nameRich },
    });
    yAxes.push({
      gridIndex: i, type: 'value', min: v.y[0], max: v.y[1],
      axisLine: { show: false }, axisTick: { show: false, customValues: pGrid },
      splitLine: { show: true, lineStyle: { color: '#e6e6e6', width: 0.6 } },
      axisLabel: { customValues: pTicks, fontSize: 8, color: AX, margin: 2.5, fontFamily: FONT },
      name: '{a|\u2212log}{s|10}{a|P}', nameLocation: 'middle', nameGap: 8, nameRotate: 90, nameMoveOverlap: false,
      nameTextStyle: { rich: nameRich },
    });
    const base = { type: 'scatter', xAxisIndex: i, yAxisIndex: i, silent: true, symbolSize: 3.2, animation: false };
    series.push({ ...base, data: v.ns, itemStyle: { color: NS_C }, z: 2 });
    series.push({ ...base, data: v.down, itemStyle: { color: DOWN_C }, z: 3 });
    series.push({ ...base, data: v.up, itemStyle: { color: UP_C }, z: 3 });
    series.push({ ...base, data: v.carbon, itemStyle: { color: CARB_C }, z: 4 });
    series.push({
      ...base, data: v.nitro, itemStyle: { color: NITRO_C }, z: 4,
      markLine: {
        silent: true, symbol: ['none', 'none'], label: { show: false }, animation: false,
        lineStyle: { color: '#e06060', type: [3, 2], width: 0.8 },
        data: [...fcCut.map((c) => ({ xAxis: c })), { yAxis: pCut }],
      },
    });
    series.push({
      ...base, symbolSize: 0.1, itemStyle: { color: 'rgba(0,0,0,0)' }, z: 6,
      data: v.labels.map((q: any[]) => ({ value: [q[0], q[1]], name: q[2] })),
      label: { show: true, position: 'inside', formatter: '{b}', fontSize: 5.5, color: '#262626', fontFamily: FONT },
      labelLayout: { hideOverlap: false },
    });
  });

  dotPanels.forEach((d, j) => {
    const i = 4 + j;
    const N = d.terms.length;
    const idx = d.terms.map((_: string, k: number) => k + 1);
    grids.push({ ...gridStyle, ...d.grid });
    xAxes.push({
      gridIndex: i, type: 'value', min: d.x[0], max: d.x[1],
      axisLine: { show: false }, axisTick: { show: false, customValues: d.gridV },
      splitLine: { show: true, lineStyle: { color: '#e6e6e6', width: 0.6 } },
      axisLabel: { customValues: d.ticks, formatter: (x: number) => x.toFixed(d.dec), fontSize: 8, color: AX, margin: 2.5, fontFamily: FONT },
      name: 'GeneRatio', nameLocation: 'middle', nameGap: 11, nameMoveOverlap: false,
      nameTextStyle: { fontSize: 7, color: '#1a1a1a', fontFamily: FONT },
    });
    yAxes.push({
      gridIndex: i, type: 'value', inverse: true, min: 0.4, max: N + 0.6,
      axisLine: { show: false }, axisTick: { show: false, customValues: idx },
      splitLine: { show: true, lineStyle: { color: '#e6e6e6', width: 0.6 } },
      axisLabel: { customValues: idx, formatter: (x: number) => d.terms[Math.round(x) - 1] || '', fontSize: 6.5, lineHeight: 7, color: AX, margin: 2, fontFamily: FONT },
    });
    series.push({
      type: 'scatter', xAxisIndex: i, yAxisIndex: i, silent: true, z: 3, animation: false,
      data: d.terms.map((t: string, k: number) => ({
        value: [d.ratio[k], k + 1], name: t,
        symbolSize: sizeOf(d, d.count[k]),
        itemStyle: { color: colorOf(d, d.padj[k]) },
      })),
    });
  });

  return {
    animation: false,
    backgroundColor: '#fff',
    textStyle: { fontFamily: FONT },
    grid: grids,
    xAxis: xAxes,
    yAxis: yAxes,
    series,
    graphic: { elements: [...chartGraphics(), ...pathwayGraphics()] },
  };
}

export default function App() {
  const ref = useRef<HTMLDivElement>(null);
  useEffect(() => {
    const chart = echarts.init(ref.current as HTMLDivElement, null, { renderer: 'svg', width: 435, height: 500 });
    chart.setOption(buildOption() as any);
    return () => chart.dispose();
  }, []);
  return <div ref={ref} style={{ position: 'absolute', left: 0, top: 0, width: 435, height: 500, background: '#fff' }} />;
}
